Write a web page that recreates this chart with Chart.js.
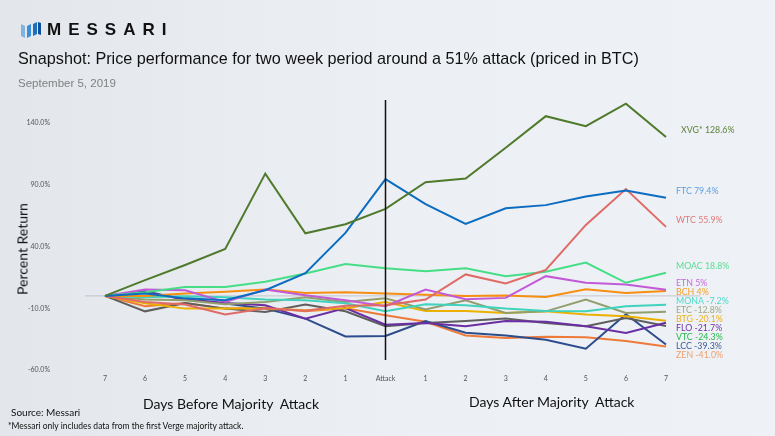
<!DOCTYPE html>
<html>
<head>
<meta charset="utf-8">
<script src="https://cdn.jsdelivr.net/npm/chart.js@4.4.1/dist/chart.umd.min.js"></script>
<style>
  html, body { margin:0; padding:0; }
  body { width:775px; height:436px; overflow:hidden; position:relative;
         background: linear-gradient(90deg, #e3e6eb 0%, #eceff3 50%, #eef1f5 100%); font-family: "Liberation Sans", Arial, sans-serif; }
  #wrap { position:absolute; left:0; top:0; width:775px; height:436px; }
  .t { position:absolute; white-space:nowrap; }
  #logo { left:21px; top:20px; height:20px; display:flex; align-items:center; }
  #logoText { font-family:"Liberation Sans", Arial, sans-serif; font-weight:bold; font-size:17px; letter-spacing:7px; color:#111; margin-left:6px; }
  #title { left:18px; top:49px; font-size:16.2px; color:#111; }
  #date { left:18px; top:77px; font-size:11.5px; color:#7f7f7f; }
  #ytitle { left:22px; top:249px; font-family:"Lato", sans-serif; font-size:14px; color:#111; transform: translate(-50%,-50%) rotate(-90deg); }
  #xb { left:143px; top:395px; font-family:"Lato", sans-serif; font-size:14px; color:#111; }
  #xa { left:469px; top:393px; font-family:"Lato", sans-serif; font-size:14px; color:#111; }
  #src { left:11px; top:406px; font-family:"Lato", sans-serif; font-size:10px; color:#111; }
  #note { left:8px; top:421px; font-family:"Lato", sans-serif; font-size:8.5px; color:#111; }
</style>
</head>
<body>
<div id="wrap"><canvas id="c" width="775" height="436"></canvas></div>
<div class="t" id="logo">
  <svg width="20" height="16" viewBox="0 0 20 16">
    <polygon points="0,2 4,4 4,16 0,14" fill="#7fb3e0"/>
    <polygon points="6,4 10,2 10,14 6,16" fill="#3b8fd6"/>
    <polygon points="12,2 16,0 16,12 12,14" fill="#1f6fbf"/>
    <polygon points="17,0 20,1 20,13 17,12" fill="#0d4f99"/>
  </svg>
  <span id="logoText">MESSARI</span>
</div>
<div class="t" id="title">Snapshot: Price performance for two week period around a 51% attack (priced in BTC)</div>
<div class="t" id="date">September 5, 2019</div>
<div class="t" id="ytitle">Percent Return</div>
<div class="t" id="xb">Days Before Majority&nbsp; Attack</div>
<div class="t" id="xa">Days After Majority&nbsp; Attack</div>
<div class="t" id="src">Source: Messari</div>
<div class="t" id="note">*Messari only includes data from the first Verge majority attack.</div>
<script>
// ---- data ----
const categories = ["7","6","5","4","3","2","1","Attack","1","2","3","4","5","6","7"];
const yTicks = [-60, -10, 40, 90, 140];

const XVG  = [0, 12.8, 25, 38, 99, 50.7, 58, 70.5, 92, 95, 120, 145.5, 137.4, 155.6, 128.6];
const FTC  = [0, 2, -2, -3.5, 4.6, 18.4, 51, 94.6, 74.3, 58.3, 71, 73.5, 80.5, 85.4, 79.4];
const WTC  = [0, -5, -7, -15, -10, -12, -8, -7.6, -3, 17.4, 10, 21, 57.5, 86.5, 55.9];
const MOAC = [0, 3, 7.3, 7.3, 11.4, 18.2, 25.8, 22.3, 20, 22.3, 16, 19.5, 27, 10.6, 18.8];
const ETN  = [0, 5.2, 4.6, -4.9, 5.2, 0.6, -3.5, -8.4, 5.2, -2.7, -1.6, 16, 10.6, 9.3, 5];
const BCH  = [0, 0, 2, 3.3, 5.2, 2.4, 3, 2, 1, 0, 0.3, -0.8, 5.4, 2.4, 4];
const MONA = [0, -1, -0.3, -1, -3, -3.5, -6, -12.5, -6.7, -7.6, -10.3, -12.2, -12.5, -8.4, -7.2];
const ETC  = [0, -3, -3.5, -6.7, -5, -1, -5, -2, -11, -3.5, -13.8, -12.5, -3, -13.8, -12.8];
const BTG  = [0, -6, -10.3, -10.3, -10.3, -11.6, -10, -4.9, -12.2, -12.2, -13.8, -12.5, -15, -16.5, -20.1];
const FLO  = [0, 3, -3, -5.7, -7.6, -18.4, -9.8, -23.3, -22, -24.6, -20.3, -21, -24.6, -30, -21.7];
const VTC  = [0, -12.5, -5.7, -10.3, -13, -7, -12.5, -24.6, -22, -20.3, -18.4, -22, -24.6, -17.9, -24.3];
const LCC  = [0, 3.8, -3, -6.2, -10.3, -18.4, -32.8, -32.5, -20.3, -29.8, -32, -35.5, -42.8, -14.9, -39.3];
const ZEN  = [0, -8.4, -5.7, -10.3, -9.6, -12.5, -10, -15.7, -21, -32, -34, -33, -33.5, -36.6, -41];

const seriesNames  = ["XVG","FTC","WTC","MOAC","ETN","BCH","MONA","ETC","BTG","FLO","VTC","LCC","ZEN"];
const seriesValues = [XVG, FTC, WTC, MOAC, ETN, BCH, MONA, ETC, BTG, FLO, VTC, LCC, ZEN];
const endLabels = ["XVG* 128.6%","FTC 79.4%","WTC 55.9%","MOAC 18.8%","ETN 5%","BCH 4%","MONA -7.2%","ETC -12.8%","BTG -20.1%","FLO -21.7%","VTC -24.3%","LCC -39.3%","ZEN -41.0%"];

// ---- styles ----
const lineColors  = ["#4f7a2c","#0b6cc0","#e06a66","#45de86","#c25ad8","#f78f12","#3fd3bd","#929f6c","#ebb000","#6a2ea3","#5e5e5e","#2d4c8d","#ee7a3a"];
const labelColors = ["#5d7f39","#5c9ee0","#e0787a","#58df94","#c766e0","#f2a02a","#4fd8c8","#a2a77f","#eeb21a","#6f35a8","#27b84c","#3d5a96","#f0a070"];

const datasets = seriesValues.map((vals, i) => ({
  label: seriesNames[i], data: vals, borderColor: lineColors[i], backgroundColor: lineColors[i],
  borderWidth: 2, pointRadius: 0, tension: 0, fill: false, clip: false
}));

const decor = {
  id: 'decor',
  beforeDatasetsDraw(chart) {
    const {ctx, chartArea, scales:{x, y}} = chart;
    const y0 = y.getPixelForValue(0);
    ctx.save();
    ctx.strokeStyle = 'rgba(160,165,175,0.55)';
    ctx.lineWidth = 1;
    ctx.beginPath(); ctx.moveTo(chartArea.left - 20, y0); ctx.lineTo(chartArea.right + 34, y0); ctx.stroke();
    ctx.restore();
  },
  afterDatasetsDraw(chart) {
    const {ctx, chartArea, scales:{x, y}} = chart;
    const xa = x.getPixelForValue(7);
    ctx.save();
    ctx.strokeStyle = '#111'; ctx.lineWidth = 1.5;
    ctx.beginPath(); ctx.moveTo(xa, chartArea.top - 23); ctx.lineTo(xa, chartArea.bottom - 10); ctx.stroke();
    // end labels
    ctx.font = '8.8px Lato, sans-serif';
    ctx.textBaseline = 'middle';
    const last = categories.length - 1;
    let prev = -Infinity;
    seriesValues.forEach((vals, i) => {
      let py = y.getPixelForValue(vals[last]) - 7;
      if (py < prev + 9) py = prev + 9;
      prev = py;
      ctx.fillStyle = labelColors[i];
      ctx.fillText(endLabels[i], chartArea.right + (i === 0 ? 15 : 10), py);
    });
    ctx.restore();
  }
};

new Chart(document.getElementById('c'), {
  type: 'line',
  data: { labels: categories, datasets },
  options: {
    responsive: false, animation: false, devicePixelRatio: 1,
    layout: { padding: { left: 0, top: 123, right: 109, bottom: 0 } },
    plugins: { legend: { display: false }, tooltip: { enabled: false } },
    scales: {
      x: {
        grid: { display: false, drawTicks: false }, border: { display: false },
        ticks: { color: '#555', font: { family: 'Lato', size: 7 }, padding: 5, autoSkip: false, maxRotation: 0 },
        afterFit(s) { s.height = 66; }
      },
      y: {
        min: -60, max: 140,
        grid: { display: false, drawTicks: false }, border: { display: false },
        afterBuildTicks(s) { s.ticks = yTicks.map(v => ({ value: v })); },
        ticks: { color: '#555', font: { family: 'Lato', size: 7 }, padding: 55,
                 callback: v => v.toFixed(1) + '%' },
        afterFit(s) { s.width = 105; }
      }
    }
  },
  plugins: [decor]
});
</script>
</body>
</html>
